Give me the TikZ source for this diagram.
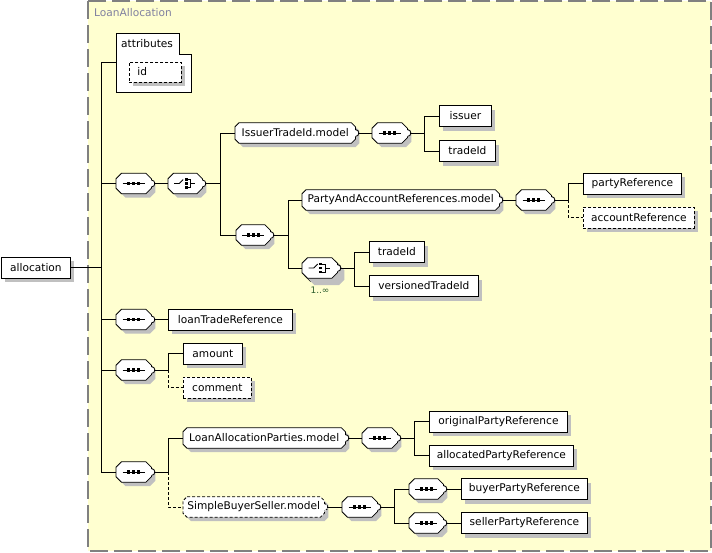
\documentclass[tikz,border=0pt]{standalone}
\usepackage{fontspec}
\setmainfont{DejaVu Sans}
\usetikzlibrary{shadows}
\definecolor{bgyellow}{HTML}{FFFFD0}
\definecolor{shade}{HTML}{C0C0C0}
\definecolor{bordergray}{HTML}{808080}
\definecolor{titlegray}{HTML}{8080A0}
\definecolor{multgreen}{HTML}{2F5F2F}
\pgfdeclarelayer{background}
\pgfsetlayers{background,main}
\tikzset{
  shd/.style={general shadow={fill=shade, shadow xshift=4pt, shadow yshift=-4pt}},
  elem/.style={draw, fill=white, rectangle, minimum height=21pt, inner sep=0pt, anchor=west, line width=0.8pt, shd},
  opt/.style={elem, dashed, dash pattern=on 3pt off 2pt},
  comp/.style={rectangle, minimum width=35pt, minimum height=20pt, inner sep=0pt, anchor=west},
  grp/.style={rectangle, minimum height=20pt, inner sep=0pt, anchor=west},
  conn/.style={line width=0.8pt},
  optconn/.style={conn, dashed, dash pattern=on 3pt off 2pt},
}
% octagon around node #1, chamfer #2, offset #3, style #4
\newcommand\octo[4]{%
  \path[#4] ([shift={(#2+#3,#3)}]#1.north west) -- ([shift={(-#2+#3,#3)}]#1.north east)
    -- ([shift={(#3,#2+#3)}]#1.north east) -- ([shift={(#3,-#2+#3)}]#1.south east)
    -- ([shift={(-#2+#3,#3)}]#1.south east) -- ([shift={(#2+#3,#3)}]#1.south west)
    -- ([shift={(#3,-#2+#3)}]#1.south west) -- ([shift={(#3,#2+#3)}]#1.north west) -- cycle;}
\newcommand\octbox[3][]{%
  \begin{pgfonlayer}{background}
    \octo{#2}{#3}{4}{fill=shade}
    \octo{#2}{#3}{0}{draw, fill=white, line width=0.8pt, #1}
  \end{pgfonlayer}}
\newcommand\bump[2][]{\draw[line width=0.8pt, fill=white, #1] ([yshift=3.5pt]#2.east) .. controls +(4.5pt,0pt) and +(4.5pt,0pt) .. ([yshift=-3.5pt]#2.east);}
\newcommand\seqsym[1]{%
  \octbox{#1}{5.5}
  \begin{scope}[shift={(#1.center)}]
    \draw[line width=0.8pt] (-11,0) -- (11,0);
    \foreach \dx in {-5,0,5} \fill (\dx-1.7,-1.7) rectangle (\dx+1.7,1.7);
  \end{scope}\bump{#1}}
\newcommand\chosym[1]{%
  \begin{scope}[shift={(#1.center)}]
    \draw[line width=0.8pt] (-11,0) -- (-6,0) -- (-2,-4);
    \foreach \yy in {-4,0,4} \fill (-0.5,\yy-1.4) rectangle (2.3,\yy+1.4);
    \draw[line width=0.8pt] (2.3,-4) -- (5.5,-4) -- (5.5,4) -- (2.3,4);
    \draw[line width=0.8pt] (5.5,0) -- (10,0);
  \end{scope}\bump{#1}}
\begin{document}
\begin{tikzpicture}[x=1pt,y=-1pt, font=\fontsize{10.6}{12}\selectfont]
\useasboundingbox (0,0) rectangle (712,552);
\begin{pgfonlayer}{background}
\fill[bgyellow] (88,1) rectangle (711,551);
\draw[bordergray, line width=1.6pt, dash pattern=on 18pt off 6pt] (88,1) rectangle (711,551);
\end{pgfonlayer}
\node[anchor=west, text=titlegray, inner sep=0pt] (title) at (94,13) {LoanAllocation};

% root
\node[elem, minimum width=69pt] (allocation) at (1,267.5) {allocation};
\coordinate (t0) at (101,267.5);

% attributes
\node[draw=none, rectangle, minimum width=75pt, minimum height=59pt, anchor=north west, inner sep=0pt] (attrs) at (116,33) {};
\draw[line width=0.8pt, fill=white] (116,33) -- (179,33) -- (179,54) -- (191,54) -- (191,92) -- (116,92) -- cycle;
\node[anchor=west, inner sep=0pt] (attrlbl) at (121,43.5) {attributes};
\node[opt, minimum height=20pt, text width=36pt, inner xsep=8pt, align=left] (id) at (129,72) {id};

% branch 1
\node[comp] (seq1) at (116,183.5) {};
\node[comp, minimum width=34pt] (cho1) at (168,183.5) {};
\coordinate (b1) at (220,183.5);
\node[grp, minimum width=120pt] (itm) at (235,133) {IssuerTradeId.model};
\node[comp] (seq11) at (372,133) {};
\coordinate (b11) at (424,133);
\node[elem, minimum width=52pt] (issuer) at (439,116) {issuer};
\node[elem, minimum width=56pt] (tradeIdA) at (439,151) {tradeId};
\node[comp, minimum width=34pt] (seq12) at (236,235) {};
\coordinate (b12) at (288,235);
\node[grp, minimum width=197pt] (pacr) at (302,200) {PartyAndAccountReferences.model};
\node[comp] (seq121) at (516,200) {};
\coordinate (b121) at (568,200);
\node[elem, minimum width=98pt] (partyRef) at (583,183.5) {partyReference};
\node[opt, minimum width=111pt] (accountRef) at (583,217.5) {accountReference};
% stacked choice 1..inf
\node[comp, minimum width=35pt] (cho2back) at (305,271) {};
\node[comp, minimum width=35pt] (cho2) at (302,268) {};
\node[anchor=north, text=multgreen, inner sep=0pt, font=\fontsize{9}{10}\selectfont] (mult) at (320,287) {1..∞};
\coordinate (b122) at (354,268);
\node[elem, minimum width=55pt] (tradeIdB) at (369,252) {tradeId};
\node[elem, minimum width=109pt] (versioned) at (369,286) {versionedTradeId};

% branch 2
\node[comp] (seq2) at (116,319.5) {};
\node[elem, minimum width=124pt] (loanTrade) at (168,319.5) {loanTradeReference};

% branch 3
\node[comp] (seq3) at (116,370) {};
\coordinate (b3) at (168,370);
\node[elem, minimum width=59pt] (amount) at (183,353.5) {amount};
\node[opt, minimum width=68pt] (comment) at (183,387.5) {comment};

% branch 4
\node[comp] (seq4) at (116,472) {};
\coordinate (b4) at (168,472);
\node[grp, minimum width=162pt] (lapm) at (183,438) {LoanAllocationParties.model};
\node[grp, minimum width=141pt] (sbsm) at (183,507) {SimpleBuyerSeller.model};
\node[comp] (seq41) at (362,438) {};
\coordinate (b41) at (414,438);
\node[elem, minimum width=138pt] (origParty) at (429,421.5) {originalPartyReference};
\node[elem, minimum width=144pt] (allocParty) at (429,455.5) {allocatedPartyReference};
\node[comp] (seq42) at (342,507) {};
\coordinate (b42) at (394,507);
\node[comp, minimum width=34pt] (seq421) at (409,489) {};
\node[comp, minimum width=34pt] (seq422) at (409,523) {};
\node[elem, minimum width=126pt] (buyer) at (461,489) {buyerPartyReference};
\node[elem, minimum width=126pt] (seller) at (461,523) {sellerPartyReference};

% compositor and group outlines
\begin{pgfonlayer}{background}
  \octo{cho2back}{5.5}{4}{fill=shade}
  \octo{cho2back}{5.5}{0}{draw, fill=white, line width=0.8pt}
\end{pgfonlayer}
\octbox{cho1}{5.5}
\octbox{cho2}{5.5}
\seqsym{seq1} \chosym{cho1} \seqsym{seq11} \seqsym{seq12} \seqsym{seq121}
\chosym{cho2} \seqsym{seq2} \seqsym{seq3} \seqsym{seq4} \seqsym{seq41}
\seqsym{seq42} \seqsym{seq421} \seqsym{seq422}
\octbox{itm}{4} \octbox{pacr}{4} \octbox{lapm}{4}
\octbox[dashed, dash pattern=on 3pt off 2pt]{sbsm}{4}
\bump{itm} \bump{pacr} \bump{lapm}
\bump[dashed, dash pattern=on 2pt off 1.5pt]{sbsm}

% connectors
\draw[conn] (allocation.east) -- (t0);
\draw[conn] (t0) |- (attrs.west);
\draw[conn] (t0) |- (seq1.west);
\draw[conn] (t0) |- (seq2.west);
\draw[conn] (t0) |- (seq3.west);
\draw[conn] (t0) |- (seq4.west);

\draw[conn] ([xshift=3pt]seq1.east) -- (cho1.west);
\draw[conn] ([xshift=3pt]cho1.east) -- (b1);
\draw[conn] (b1) |- (itm.west);
\draw[conn] (b1) |- (seq12.west);
\draw[conn] ([xshift=3pt]itm.east) -- (seq11.west);
\draw[conn] ([xshift=3pt]seq11.east) -- (b11);
\draw[conn] (b11) |- (issuer.west);
\draw[conn] (b11) |- (tradeIdA.west);
\draw[conn] ([xshift=3pt]seq12.east) -- (b12);
\draw[conn] (b12) |- (pacr.west);
\draw[conn] (b12) |- (cho2.west);
\draw[conn] ([xshift=3pt]pacr.east) -- (seq121.west);
\draw[conn] ([xshift=3pt]seq121.east) -- (b121);
\draw[conn] (b121) |- (partyRef.west);
\draw[optconn] (b121) |- (accountRef.west);
\draw[conn] ([xshift=3pt]cho2.east) -- (b122);
\draw[conn] (b122) |- (tradeIdB.west);
\draw[conn] (b122) |- (versioned.west);

\draw[conn] ([xshift=3pt]seq2.east) -- (loanTrade.west);

\draw[conn] ([xshift=3pt]seq3.east) -- (b3);
\draw[conn] (b3) |- (amount.west);
\draw[optconn] (b3) |- (comment.west);

\draw[conn] ([xshift=3pt]seq4.east) -- (b4);
\draw[conn] (b4) |- (lapm.west);
\draw[optconn] (b4) |- (sbsm.west);
\draw[conn] ([xshift=3pt]lapm.east) -- (seq41.west);
\draw[conn] ([xshift=3pt]seq41.east) -- (b41);
\draw[conn] (b41) |- (origParty.west);
\draw[conn] (b41) |- (allocParty.west);
\draw[conn] ([xshift=3pt]sbsm.east) -- (seq42.west);
\draw[conn] ([xshift=3pt]seq42.east) -- (b42);
\draw[conn] (b42) |- (seq421.west);
\draw[conn] (b42) |- (seq422.west);
\draw[conn] ([xshift=3pt]seq421.east) -- (buyer.west);
\draw[conn] ([xshift=3pt]seq422.east) -- (seller.west);
\end{tikzpicture}
\end{document}
